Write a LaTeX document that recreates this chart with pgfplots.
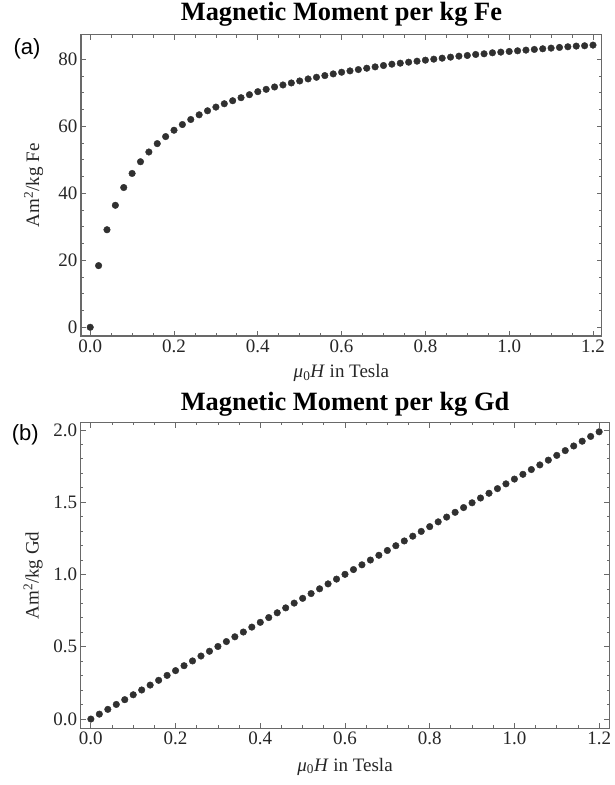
\documentclass[border=0pt]{standalone}
\usepackage{fontspec}
\setmainfont{Liberation Serif}
\newfontfamily\arialfont{Liberation Sans}
\usepackage{pgfplots}
\pgfplotsset{compat=1.18}

\definecolor{framegray}{RGB}{105,105,105}
\definecolor{dotgray}{RGB}{48,48,48}

\pgfplotstableread{
x y
0.00 0.0
0.02 18.4
0.04 29.1
0.06 36.4
0.08 41.7
0.10 45.9
0.12 49.4
0.14 52.3
0.16 54.8
0.18 56.9
0.20 58.8
0.22 60.5
0.24 62.0
0.26 63.4
0.28 64.6
0.30 65.7
0.32 66.7
0.34 67.6
0.36 68.5
0.38 69.4
0.40 70.3
0.42 71.0
0.44 71.7
0.46 72.3
0.48 72.9
0.50 73.5
0.52 74.1
0.54 74.6
0.56 75.1
0.58 75.6
0.60 76.1
0.62 76.5
0.64 76.9
0.66 77.3
0.68 77.7
0.70 78.1
0.72 78.5
0.74 78.8
0.76 79.1
0.78 79.4
0.80 79.7
0.82 80.0
0.84 80.3
0.86 80.6
0.88 80.9
0.90 81.1
0.92 81.4
0.94 81.6
0.96 81.9
0.98 82.1
1.00 82.3
1.02 82.5
1.04 82.7
1.06 82.9
1.08 83.1
1.10 83.3
1.12 83.5
1.14 83.7
1.16 83.9
1.18 84.0
1.20 84.2
}\fedata

\pgfplotstableread{
x y
0.00 0.000
0.02 0.034
0.04 0.067
0.06 0.101
0.08 0.134
0.10 0.168
0.12 0.201
0.14 0.235
0.16 0.268
0.18 0.302
0.20 0.335
0.22 0.369
0.24 0.402
0.26 0.436
0.28 0.469
0.30 0.502
0.32 0.536
0.34 0.569
0.36 0.602
0.38 0.636
0.40 0.669
0.42 0.702
0.44 0.735
0.46 0.769
0.48 0.802
0.50 0.835
0.52 0.868
0.54 0.901
0.56 0.935
0.58 0.968
0.60 1.001
0.62 1.034
0.64 1.067
0.66 1.100
0.68 1.133
0.70 1.166
0.72 1.199
0.74 1.232
0.76 1.265
0.78 1.298
0.80 1.331
0.82 1.364
0.84 1.397
0.86 1.430
0.88 1.463
0.90 1.496
0.92 1.529
0.94 1.562
0.96 1.594
0.98 1.627
1.00 1.660
1.02 1.693
1.04 1.726
1.06 1.758
1.08 1.791
1.10 1.824
1.12 1.857
1.14 1.889
1.16 1.922
1.18 1.955
1.20 1.987
}\gddata

\pgfplotsset{
  mma/.style={
    scale only axis,
    clip=false,
    axis line style={framegray, line width=1.1pt},
    tick style={framegray, line width=0.8pt},
    major tick length=5pt,
    minor tick length=2.8pt,
    tick align=inside,
    xtick pos=both, ytick pos=both,
    xticklabel pos=lower, yticklabel pos=left,
    /pgf/number format/assume math mode=true,
    ticklabel style={font=\fontsize{19}{19}\selectfont, text=black!85},
    label style={font=\fontsize{19}{19}\selectfont, text=black!85},
    title style={font=\fontsize{26.4}{26.4}\selectfont\bfseries, anchor=base},
    xtick={0,0.2,0.4,0.6,0.8,1.0,1.2},
    minor x tick num=3,
    xticklabel style={/pgf/number format/.cd, fixed, fixed zerofill, precision=1},
    xlabel={\textit{μ}\textsubscript{0}\textit{H} in Tesla},
  },
  dots/.style={only marks, mark=*, mark size=3.3pt, color=dotgray, mark options={draw=none, fill=dotgray}},
}

\begin{document}
\begin{tikzpicture}
\useasboundingbox (0,0) rectangle (615pt,785pt);

\begin{axis}[mma,
  at={(81pt,449pt)}, anchor=south west,
  width=520.8pt, height=301.3pt,
  xmin=-0.022, xmax=1.221,
  ymin=-2.6, ymax=87.3,
  ytick={0,20,40,60,80},
  minor y tick num=3,
  title={Magnetic Moment per kg Fe},
  title style={at={(axis description cs:0.5,1.026)}},
  ylabel={Am\textsuperscript{2}/kg Fe},
  ylabel style={at={(axis description cs:-0.0806,0.5)}, anchor=base},
  xlabel style={at={(axis description cs:0.5,-0.139)}, anchor=base},
]
\addplot[dots] table[x=x, y=y] {\fedata};
\node[anchor=base, font=\arialfont\fontsize{22}{22}\selectfont] at (axis description cs:-0.1037,0.933) {(a)};
\end{axis}

\begin{axis}[mma,
  at={(80.7pt,56.7pt)}, anchor=south west,
  width=528.6pt, height=305.6pt,
  xmin=-0.024, xmax=1.224,
  ymin=-0.064, ymax=2.05,
  ytick={0,0.5,1.0,1.5,2.0},
  minor y tick num=4,
  yticklabel style={/pgf/number format/.cd, fixed, fixed zerofill, precision=1},
  title={Magnetic Moment per kg Gd},
  title style={at={(axis description cs:0.5,1.02)}},
  ylabel={Am\textsuperscript{2}/kg Gd},
  ylabel style={at={(axis description cs:-0.0795,0.5)}, anchor=base},
  xlabel style={at={(axis description cs:0.5,-0.14)}, anchor=base},
]
\addplot[dots] table[x=x, y=y] {\gddata};
\node[anchor=base, font=\arialfont\fontsize{22}{22}\selectfont] at (axis description cs:-0.105,0.943) {(b)};
\end{axis}
\end{tikzpicture}
\end{document}
